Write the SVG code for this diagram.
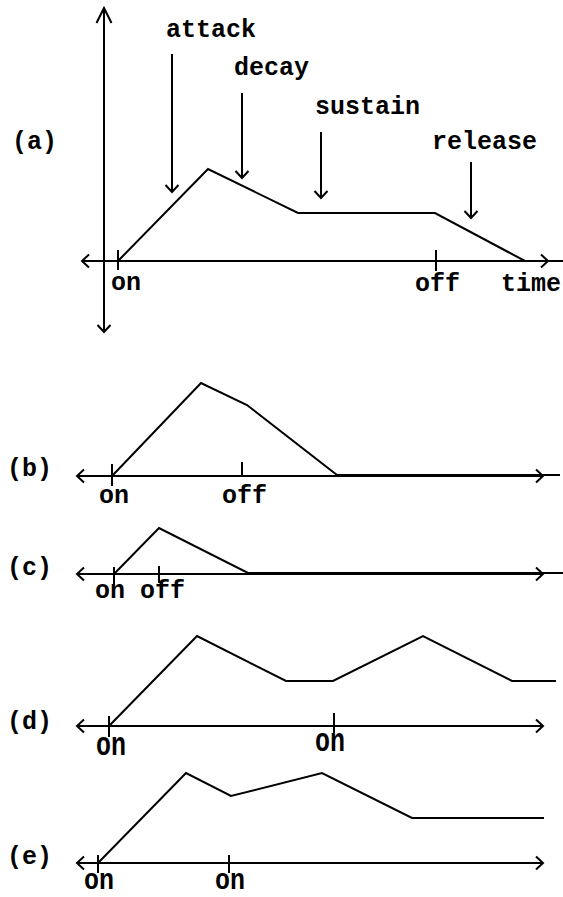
<svg xmlns="http://www.w3.org/2000/svg" width="563" height="897" viewBox="0 0 563 897">
<style>
.ln{fill:none;stroke:#000;stroke-width:2;stroke-linejoin:miter}
.ax{fill:none;stroke:#000;stroke-width:2;marker-start:url(#chev);marker-end:url(#chev)}
.ar{fill:none;stroke:#000;stroke-width:2;marker-end:url(#chev)}
.tk{stroke:#000;stroke-width:2}
text{font-family:"Liberation Mono","Courier New",monospace;font-weight:bold;font-size:25px;fill:#000}
</style>
<defs>
<marker id="chev" viewBox="-10 -10 20 20" markerWidth="20" markerHeight="20" refX="0" refY="0" orient="auto-start-reverse" markerUnits="userSpaceOnUse" overflow="visible">
<path d="M-7,-6.5 L0,0 L-7,6.5" fill="none" stroke="#000" stroke-width="2"/>
</marker>
<marker id="chevL" viewBox="-16 -10 20 20" markerWidth="20" markerHeight="20" refX="0" refY="0" orient="auto" markerUnits="userSpaceOnUse" overflow="visible">
<path d="M-15,-7.5 L0,0 L-15,7.5" fill="none" stroke="#000" stroke-width="2"/>
</marker>
</defs>
<rect width="563" height="897" fill="#fff"/>

<g id="panel-a">
<line x1="104" y1="332" x2="104" y2="8" stroke="#000" stroke-width="2" marker-start="url(#chev)" marker-end="url(#chevL)"/>
<line class="ax" x1="82" y1="261" x2="548" y2="261"/>
<line class="tk" x1="118" y1="250" x2="118" y2="270"/>
<line class="tk" x1="436" y1="250" x2="436" y2="271"/>
<polyline class="ln" points="118,261 208,169 298,213 435,213 525,261 563,261"/>
<text x="12" y="149">(a)</text>
<text x="166" y="37">attack</text>
<text x="234" y="75">decay</text>
<text x="315" y="114">sustain</text>
<text x="432" y="149">release</text>
<text x="111" y="290">on</text>
<text x="415" y="291">off</text>
<text x="501" y="291">time</text>
</g>

<g id="connectors">
<line class="ar" x1="172" y1="54" x2="172" y2="192"/>
<line class="ar" x1="242" y1="93" x2="242" y2="178"/>
<line class="ar" x1="321" y1="132" x2="321" y2="198"/>
<line class="ar" x1="471" y1="162" x2="471" y2="218"/>
</g>

<g id="panel-b">
<line class="ax" x1="77" y1="476" x2="543" y2="476"/>
<line class="tk" x1="112" y1="464" x2="112" y2="486"/>
<line class="tk" x1="242" y1="462" x2="242" y2="476"/>
<polyline class="ln" points="112,476 201,383 247,405 337,475 560,475"/>
<text x="7" y="476">(b)</text>
<text x="99" y="503">on</text>
<text x="222" y="503">off</text>
</g>

<g id="panel-c">
<line class="ax" x1="77" y1="574" x2="543" y2="574"/>
<line class="tk" x1="114" y1="567" x2="114" y2="585"/>
<line class="tk" x1="159" y1="566" x2="159" y2="583"/>
<polyline class="ln" points="114,574 159,528 248,573 563,573"/>
<text x="7" y="575">(c)</text>
<text x="95" y="598">on off</text>
</g>

<g id="panel-d">
<line class="ax" x1="77" y1="726" x2="543" y2="726"/>
<line class="tk" x1="109" y1="716" x2="109" y2="737"/>
<line class="tk" x1="334" y1="713" x2="334" y2="733"/>
<polyline class="ln" points="109,726 197,636 286,681 333,681 423,636 512,681 556,681"/>
<text x="7" y="729">(d)</text>
<text transform="translate(96,755) scale(1,1.3)">on</text>
<text transform="translate(315,751) scale(1,1.3)">on</text>
</g>

<g id="panel-e">
<line class="ax" x1="77" y1="863" x2="543" y2="863"/>
<line class="tk" x1="98" y1="855" x2="98" y2="873"/>
<line class="tk" x1="229" y1="855" x2="229" y2="873"/>
<polyline class="ln" points="98,863 186,773 231,796 322,773 412,818 544,818"/>
<text x="7" y="864">(e)</text>
<text transform="translate(84,889) scale(1,1.15)">on</text>
<text transform="translate(215,889) scale(1,1.15)">on</text>
</g>
</svg>
